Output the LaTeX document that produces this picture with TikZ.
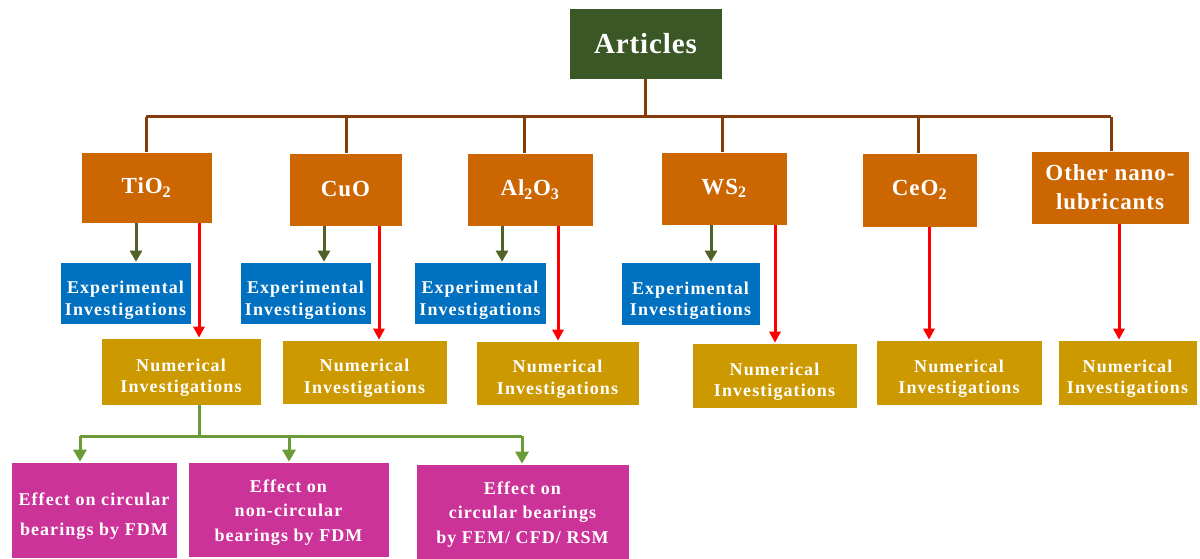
\documentclass[tikz,border=0pt]{standalone}
\usepackage{fontspec}
\setmainfont{Liberation Serif}
\newfontfamily\artfont[LetterSpace=3]{Liberation Serif}
\newfontfamily\matfont[LetterSpace=4]{Liberation Serif}
\newfontfamily\smallfont[LetterSpace=6]{Liberation Serif}
\usetikzlibrary{arrows.meta}
\definecolor{artgreen}{HTML}{3B5725}
\definecolor{orangebox}{HTML}{CC6600}
\definecolor{bluebox}{HTML}{0070C0}
\definecolor{goldbox}{HTML}{CC9900}
\definecolor{magbox}{HTML}{CC3399}
\definecolor{brownline}{HTML}{843C0C}
\definecolor{olivearrow}{HTML}{4F6228}
\definecolor{greenbranch}{HTML}{6B9B37}
\tikzset{
  box/.style={inner sep=0pt, align=center, text=white, draw=white, line width=0.6pt},
  txt/.style={inner sep=0pt, align=center, text=white},
  artbox/.style={box, fill=artgreen, font=\artfont\fontsize{29}{33}\selectfont\bfseries},
  matbox/.style={box, fill=orangebox, font=\matfont\fontsize{23}{29}\selectfont\bfseries},
  expbox/.style={box, fill=bluebox},
  numbox/.style={box, fill=goldbox},
  effbox/.style={box, fill=magbox},
  smalltxt/.style={txt, font=\smallfont\fontsize{18}{21.5}\selectfont\bfseries},
  efftxt/.style={txt, font=\smallfont\fontsize{18}{24.5}\selectfont\bfseries},
  busline/.style={draw=brownline, line width=3pt},
  olivearr/.style={draw=olivearrow, line width=3pt, -{Triangle[length=11pt,width=12pt]}},
  redarr/.style={draw=red, line width=3pt, -{Triangle[length=11pt,width=11pt]}},
  greenline/.style={draw=greenbranch, line width=3pt},
  greenarr/.style={draw=greenbranch, line width=3pt, -{Triangle[length=12pt,width=13pt]}},
}
\begin{document}
\begin{tikzpicture}[x=1pt,y=-1pt]
\useasboundingbox (0,0) rectangle (1200,559);
% top
\node[artbox, minimum width=153pt, minimum height=71pt] (art) at (645.5,43.5) {Articles};
% materials
\node[matbox, minimum width=131pt, minimum height=71pt] (tio) at (146.5,187.5) {TiO\textsubscript{2}};
\node[matbox, minimum width=113pt, minimum height=73pt] (cuo) at (345.5,189.5) {CuO};
\node[matbox, minimum width=126pt, minimum height=73pt] (alo) at (530,189.5) {Al\textsubscript{2}O\textsubscript{3}};
\node[matbox, minimum width=126pt, minimum height=73pt] (ws) at (724,188.5) {WS\textsubscript{2}};
\node[matbox, minimum width=115pt, minimum height=74pt] (ceo) at (919.5,190) {CeO\textsubscript{2}};
\node[matbox, minimum width=158pt, minimum height=73pt] (oth) at (1110,187.5) {Other nano-\\lubricants};
% bus
\coordinate (busL) at (146,117);
\coordinate (busR) at (1111,117);
\draw[busline] (art.south) -- (art.south |- busL);
\draw[busline] (busL) -- (busR);
\draw[busline] (busL) -- (busL |- tio.north);
\draw[busline] (busR) -- (busR |- oth.north);
\coordinate (d2) at (346,117);
\coordinate (d3) at (524,117);
\coordinate (d4) at (722,117);
\coordinate (d5) at (918,117);
\draw[busline] (d2) -- (d2 |- cuo.north);
\draw[busline] (d3) -- (d3 |- alo.north);
\draw[busline] (d4) -- (d4 |- ws.north);
\draw[busline] (d5) -- (d5 |- ceo.north);
% experimental
\node[expbox, minimum width=131pt, minimum height=62pt] (e1) at (125.5,293) {};
\node[expbox, minimum width=131pt, minimum height=62pt] (e2) at (305.5,293) {};
\node[expbox, minimum width=132pt, minimum height=62pt] (e3) at (480,293) {};
\node[expbox, minimum width=139pt, minimum height=63pt] (e4) at (690.5,293.5) {};
\foreach \b in {e1,e2,e3,e4}
  \node[smalltxt] (\b t) at ([yshift=-7pt]\b.center) {Experimental\\Investigations};
% numerical
\node[numbox, minimum width=160pt, minimum height=67pt] (n1) at (181,371.5) {};
\node[numbox, minimum width=165pt, minimum height=64pt] (n2) at (364.5,372) {};
\node[numbox, minimum width=163pt, minimum height=64pt] (n3) at (557.5,373) {};
\node[numbox, minimum width=165pt, minimum height=65pt] (n4) at (774.5,375.5) {};
\node[numbox, minimum width=166pt, minimum height=65pt] (n5) at (959,372.5) {};
\node[numbox, minimum width=139pt, minimum height=65pt] (n6) at (1127.5,372.5) {};
\foreach \b in {n1,n2,n3,n4,n5,n6}
  \node[smalltxt] (\b t) at ([yshift=-6pt]\b.center) {Numerical\\Investigations};
% olive arrows
\coordinate (g1) at (136,0);
\coordinate (g2) at (324,0);
\coordinate (g3) at (502,0);
\coordinate (g4) at (711,0);
\draw[olivearr] (g1 |- tio.south) -- (g1 |- e1.north);
\draw[olivearr] (g2 |- cuo.south) -- (g2 |- e2.north);
\draw[olivearr] (g3 |- alo.south) -- (g3 |- e3.north);
\draw[olivearr] (g4 |- ws.south) -- (g4 |- e4.north);
% red arrows
\coordinate (r1) at (199,0);
\coordinate (r2) at (379,0);
\coordinate (r3) at (558,0);
\coordinate (r4) at (775,0);
\coordinate (r5) at (929,0);
\coordinate (r6) at (1119,0);
\draw[redarr] (r1 |- tio.south) -- (r1 |- n1.north);
\draw[redarr] (r2 |- cuo.south) -- (r2 |- n2.north);
\draw[redarr] (r3 |- alo.south) -- (r3 |- n3.north);
\draw[redarr] (r4 |- ws.south) -- (r4 |- n4.north);
\draw[redarr] (r5 |- ceo.south) -- (r5 |- n5.north);
\draw[redarr] (r6 |- oth.south) -- (r6 |- n6.north);
% effect boxes
\node[effbox, minimum width=166pt, minimum height=96pt] (m1) at (94,510) {};
\node[effbox, minimum width=201pt, minimum height=95pt] (m2) at (288.5,509.5) {};
\node[effbox, minimum width=213pt, minimum height=95pt] (m3) at (522.5,511.5) {};
\node[efftxt] (m1t) at ([yshift=-6pt]m1.center) {Effect on circular\\[5pt]bearings by FDM};
\node[efftxt] (m2t) at ([yshift=-3pt]m2.center) {Effect on\\non-circular\\bearings by FDM};
\node[efftxt] (m3t) at ([yshift=-3pt]m3.center) {Effect on\\circular bearings\\by FEM/ CFD/ RSM};
% green tree
\coordinate (tj) at (199,436);
\coordinate (tl) at (80,436);
\coordinate (tm) at (289,436);
\coordinate (tr) at (522,436);
\draw[greenline] (tj |- n1.south) -- (tj);
\draw[greenline] (tl) -- (tr);
\draw[greenarr] (tl) -- (tl |- m1.north);
\draw[greenarr] (tm) -- (tm |- m2.north);
\draw[greenarr] (tr) -- (tr |- m3.north);
\end{tikzpicture}
\end{document}
